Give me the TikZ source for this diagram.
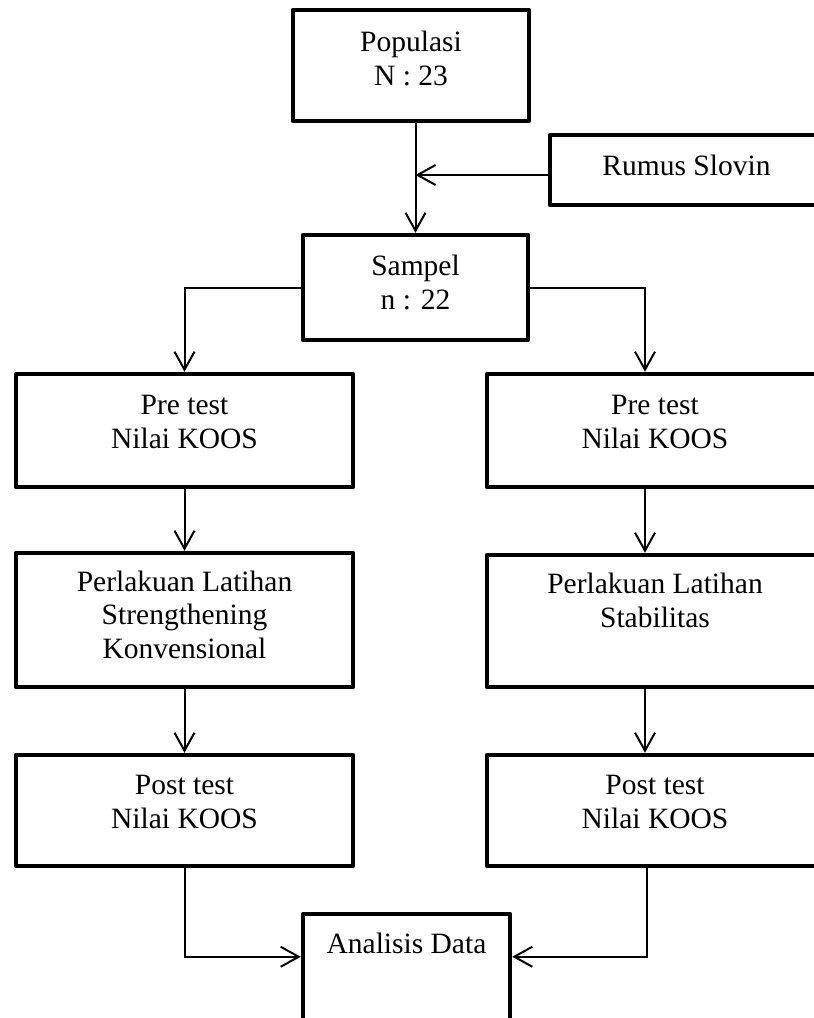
\documentclass[tikz,border=0pt]{standalone}
\usepackage{fontspec}
\setmainfont{Liberation Serif}
\usepackage{tikz}
\usetikzlibrary{arrows.meta,positioning}

\begin{document}
\begin{tikzpicture}
  [
   x=1pt,y=-1pt,
   box/.style={draw,line width=4.5pt,line join=round,align=center,inner sep=0pt,
               font=\fontsize{29.5}{33.5}\selectfont},
   lbox/.style={box,minimum width=337pt},
   rbox/.style={box,minimum width=336pt},
   arr/.style={line width=2pt,-{Straight Barb[length=18pt,width=20pt]}}
  ]
   \path[use as bounding box,fill=white] (0,0) rectangle (814,1018);

   \node[box,minimum width=236pt,text height=75pt,text depth=36pt] (populasi) at (411,65.5) {Populasi\\N : 23};
   \node[box,minimum width=273pt,text height=40pt,text depth=30pt] (slovin) at (686.5,170) {Rumus Slovin};
   \node[box,minimum width=225pt,text height=74pt,text depth=31pt] (sampel) at (415.5,287.5) {Sampel\\n : 22};

   \node[lbox,text height=74pt,text depth=39pt] (preL) at (184.5,430.5) {Pre test\\Nilai KOOS};
   \node[rbox,text height=74pt,text depth=39pt] (preR) at (655,430.5) {Pre test\\Nilai KOOS};
   \node[lbox,text height=105pt,text depth=29pt] (latL) at (184.5,620) {Perlakuan Latihan\\Strengthening\\Konvensional};
   \node[rbox,text height=72pt,text depth=60pt] (latR) at (655,621) {Perlakuan Latihan\\Stabilitas};
   \node[lbox,text height=73pt,text depth=38pt] (postL) at (184.5,810.5) {Post test\\Nilai KOOS};
   \node[rbox,text height=73pt,text depth=38pt] (postR) at (655,810.5) {Post test\\Nilai KOOS};

   \node[box,minimum width=207pt,text height=39pt,text depth=87pt] (analisis) at (406.5,977) {Analisis Data};

   \draw[arr] (sampel.north |- populasi.south) -- (sampel.north);
   \draw[arr] ([yshift=-5pt]slovin.west) -- ([yshift=-5pt]slovin.west -| sampel.north);
   \draw[arr] (sampel.west) -| (preL.north);
   \draw[arr] (sampel.east) -| ([xshift=-10pt]preR.north);

   \draw[arr] (preL.south) -- (latL.north);
   \draw[arr] (latL.south) -- (postL.north);
   \draw[arr] ([xshift=-10pt]preR.south) -- ([xshift=-10pt]latR.north);
   \draw[arr] ([xshift=-10pt]latR.south) -- ([xshift=-10pt]postR.north);

   \draw[arr] (postL.south) |- ([yshift=-45pt]analisis.north west);
   \draw[arr] ([xshift=-8pt]postR.south) |- ([yshift=-45pt]analisis.north east);

\end{tikzpicture}
\end{document}
